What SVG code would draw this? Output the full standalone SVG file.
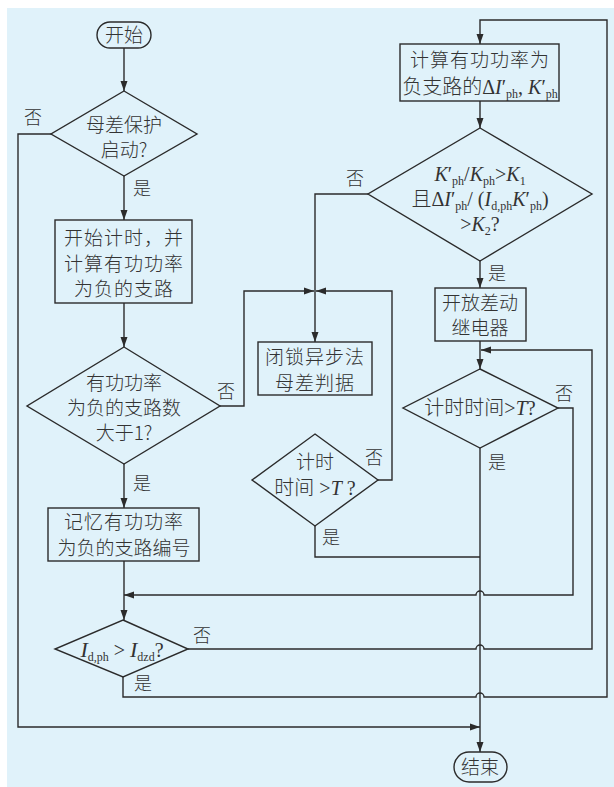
<svg xmlns="http://www.w3.org/2000/svg" width="614" height="787" viewBox="0 0 614 787">
<style>
.bg{fill:#e0f2fa}
.n{fill:none;stroke:#2b2b2b;stroke-width:1.4}
.c{fill:none;stroke:#2b2b2b;stroke-width:1.4}
text{font-family:"Liberation Serif","Noto Sans CJK SC",serif;font-size:19px;fill:#333;text-anchor:middle}
.cn{font-family:"Noto Sans CJK SC","Liberation Serif",sans-serif;font-weight:300}
.m{font-family:"Liberation Serif","Noto Sans CJK SC",serif;font-size:20px}
.i{font-style:italic}
.s{font-size:12px;font-style:normal}
.lbl{font-family:"Noto Sans CJK SC",sans-serif;font-size:18px;font-weight:300}
</style>
<defs>
<marker id="ah" markerWidth="10" markerHeight="8" refX="10" refY="4" orient="auto" markerUnits="userSpaceOnUse">
<path d="M0,0.5 L10,4 L0,7.5 z" fill="#2b2b2b"/>
</marker>
</defs>
<rect class="bg" x="7" y="8" width="607" height="779"/>

<g id="connectors">
<path class="c" d="M124,48 V91" marker-end="url(#ah)"/>
<path class="c" d="M124,176 V220" marker-end="url(#ah)"/>
<path class="c" d="M124,303 V347" marker-end="url(#ah)"/>
<path class="c" d="M124,464 V508" marker-end="url(#ah)"/>
<path class="c" d="M124,561 V620" marker-end="url(#ah)"/>
<path class="c" d="M51,134 H18 V727 H480" marker-end="url(#ah)"/>
<path class="c" d="M220,406 H244 V291 H314" marker-end="url(#ah)"/>
<path class="c" d="M368,194 H315 V342" marker-end="url(#ah)"/>
<path class="c" d="M378,480 H392 V291 H316" marker-end="url(#ah)"/>
<path class="c" d="M315,526 V557 H480"/>
<path class="c" d="M480,101 V128" marker-end="url(#ah)"/>
<path class="c" d="M480,261 V288" marker-end="url(#ah)"/>
<path class="c" d="M480,341 V369" marker-end="url(#ah)"/>
<path class="c" d="M480,448 V752" marker-end="url(#ah)"/>
<path class="c" d="M558,408 H573 V595 H484 A4,4 0 0 0 476,595 H124" marker-end="url(#ah)"/>
<path class="c" d="M188,649 H476 A4,4 0 0 1 484,649 H592 V350 H481" marker-end="url(#ah)"/>
<path class="c" d="M123,677 V697 H476 A4,4 0 0 1 484,697 H607 V20 H480 V44" marker-end="url(#ah)"/>
</g>

<g id="labels">
<text class="lbl" x="33" y="124">否</text>
<text class="lbl" x="142" y="195">是</text>
<text class="lbl" x="142" y="490">是</text>
<text class="lbl" x="226" y="398">否</text>
<text class="lbl" x="355" y="185">否</text>
<text class="lbl" x="497" y="280">是</text>
<text class="lbl" x="374" y="464">否</text>
<text class="lbl" x="331" y="544">是</text>
<text class="lbl" x="564" y="400">否</text>
<text class="lbl" x="497" y="469">是</text>
<text class="lbl" x="202" y="642">否</text>
<text class="lbl" x="143" y="690">是</text>
</g>

<g id="start">
<rect class="n" x="97" y="22" width="54" height="26" rx="13"/>
<text class="cn" x="124" y="42">开始</text>
</g>

<g id="d1">
<polygon class="n" points="124,91 197,134 124,176 51,134"/>
<text class="cn" x="124" y="132">母差保护</text>
<text class="cn" x="124" y="157">启动?</text>
</g>

<g id="b1">
<rect class="n" x="55" y="220" width="137" height="83"/>
<text class="cn" x="124" y="245" letter-spacing="1">开始计时，并</text>
<text class="cn" x="124" y="271" letter-spacing="1">计算有功功率</text>
<text class="cn" x="124" y="296" letter-spacing="1">为负的支路</text>
</g>

<g id="d2">
<polygon class="n" points="124,347 220,406 124,464 27,406"/>
<text class="cn" x="124" y="390">有功功率</text>
<text class="cn" x="124" y="415">为负的支路数</text>
<text class="cn" x="124" y="440">大于1?</text>
</g>

<g id="b2">
<rect class="n" x="48" y="508" width="151" height="53"/>
<text class="cn" x="124" y="529" letter-spacing="1">记忆有功功率</text>
<text class="cn" x="124" y="555">为负的支路编号</text>
</g>

<g id="d4">
<polygon class="n" points="123,620 188,649 123,677 55,649"/>
<text class="m" x="122" y="657"><tspan class="i" font-size="22">I</tspan><tspan class="s" dy="4">d,ph</tspan><tspan dy="-4"> &gt; </tspan><tspan class="i" font-size="22">I</tspan><tspan class="s" dy="4">dzd</tspan><tspan dy="-4">?</tspan></text>
</g>

<g id="b3">
<rect class="n" x="400" y="44" width="159" height="57"/>
<text class="cn" x="480" y="67" letter-spacing="1">计算有功功率为</text>
<text class="m" x="480" y="94"><tspan class="cn">负支路的</tspan>Δ<tspan class="i">I</tspan>′<tspan class="s" dy="4">ph</tspan><tspan dy="-4">, </tspan><tspan class="i">K</tspan>′<tspan class="s" dy="4">ph</tspan></text>
</g>

<g id="d5">
<polygon class="n" points="480,128 592,194 480,261 368,194"/>
<text class="m" x="480" y="181"><tspan class="i">K</tspan>′<tspan class="s" dy="4">ph</tspan><tspan dy="-4">/</tspan><tspan class="i">K</tspan><tspan class="s" dy="4">ph</tspan><tspan dy="-4">&gt;</tspan><tspan class="i">K</tspan><tspan class="s" dy="4">1</tspan></text>
<text class="m" x="480" y="206"><tspan class="cn">且</tspan>Δ<tspan class="i">I</tspan>′<tspan class="s" dy="4">ph</tspan><tspan dy="-4">/ (</tspan><tspan class="i">I</tspan><tspan class="s" dy="4">d,ph</tspan><tspan class="i" dy="-4">K</tspan>′<tspan class="s" dy="4">ph</tspan><tspan dy="-4">)</tspan></text>
<text class="m" x="480" y="231">&gt;<tspan class="i">K</tspan><tspan class="s" dy="4">2</tspan><tspan dy="-4">?</tspan></text>
</g>

<g id="b4">
<rect class="n" x="435" y="288" width="91" height="53"/>
<text class="cn" x="480" y="310">开放差动</text>
<text class="cn" x="480" y="335">继电器</text>
</g>

<g id="d6">
<polygon class="n" points="480,369 558,408 480,448 403,408"/>
<text class="m" x="480" y="415"><tspan class="cn">计时时间</tspan>&gt;<tspan class="i">T</tspan>?</text>
</g>

<g id="b5">
<rect class="n" x="258" y="342" width="114" height="53"/>
<text class="cn" x="315" y="364" letter-spacing="1">闭锁异步法</text>
<text class="cn" x="315" y="390" letter-spacing="1">母差判据</text>
</g>

<g id="d3">
<polygon class="n" points="315,434 378,480 315,526 252,480"/>
<text class="cn" x="315" y="469">计时</text>
<text class="m" x="315" y="495"><tspan class="cn">时间</tspan> &gt;<tspan class="i">T</tspan> ?</text>
</g>

<g id="end">
<rect class="n" x="454" y="752" width="53" height="30" rx="15"/>
<text class="cn" x="480" y="774">结束</text>
</g>
</svg>
